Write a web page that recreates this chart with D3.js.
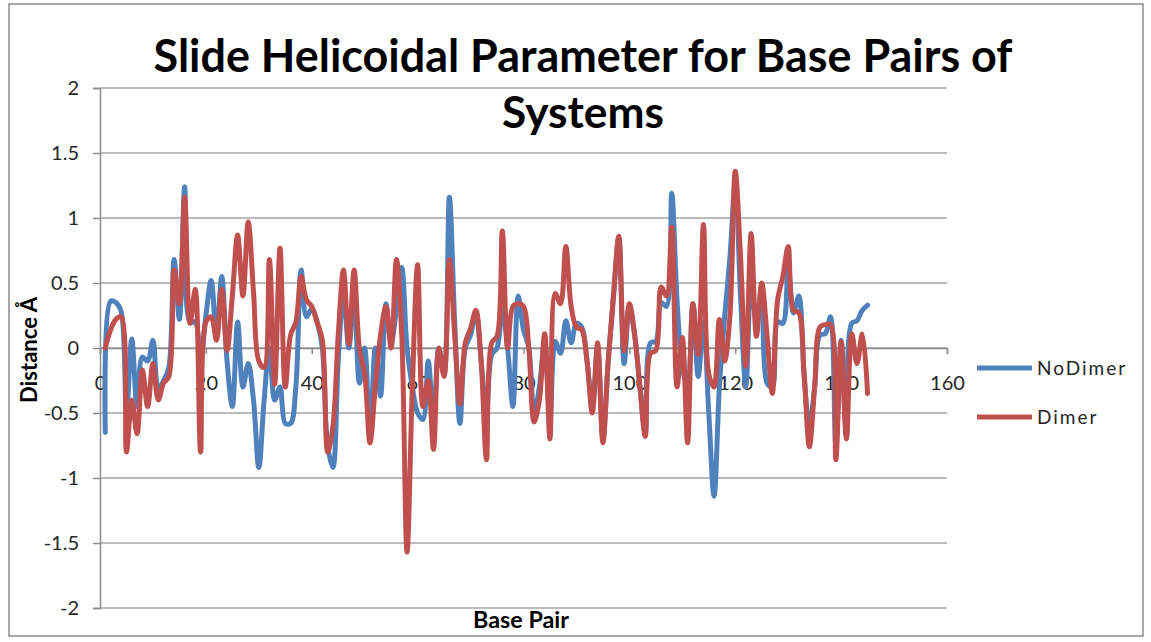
<!DOCTYPE html>
<html>
<head>
<meta charset="utf-8">
<title>Slide Helicoidal Parameter</title>
<script src="https://d3js.org/d3.v7.min.js"></script>
<style>
  body { margin: 0; background: white; font-family: Lato, "Open Sans", sans-serif; }
  svg text { font-family: Lato, "Open Sans", sans-serif; }
</style>
</head>
<body>
<svg id="chart" width="1151" height="642"></svg>
<script>
// base pair values (1..145)
let noDimer = [
  -0.65, 0.36, 0.35, 0.28, -0.5, 0.07, -0.45, -0.07, -0.1, 0.06,
  -0.32, -0.25, -0.15, 0.68, 0.22, 1.24, 0.2, 0.2, -0.1, 0.25,
  0.52, 0.1, 0.55, -0.1, -0.45, 0.2, -0.3, -0.12, -0.4, -0.92,
  -0.4, 0.0, -0.4, -0.3, -0.58, -0.58, -0.3, 0.6, 0.24, 0.3,
  0.2, 0.0, -0.75, -0.92, -0.1, 0.42, 0.0, 0.42, -0.27, 0.0,
  -0.7, 0.0, -0.37, 0.34, 0.04, 0.3, 0.62, 0.0, -0.3, -0.5,
  -0.55, -0.1, -0.55, 0.0, -0.2, 1.16, 0.2, -0.58, 0.0, 0.1,
  0.27, -0.1, -0.5, -0.05, 0.0, 0.3, 0.0, -0.45, 0.4, 0.14,
  0.0, -0.5, -0.3, 0.05, -0.55, 0.05, -0.04, 0.21, 0.04, 0.19,
  0.16, -0.1, -0.45, 0.0, -0.7, -0.1, 0.4, 0.85, -0.12, 0.32,
  0.1, -0.3, -0.65, 0.04, 0.05, 0.35, 0.32, 1.19, 0.37, -0.15,
  -0.3, 0.34, -0.22, 0.2, -0.5, -1.14, -0.3, 0.24, 0.7, 1.25,
  0.4, -0.3, 0.5, 0.2, 0.45, -0.27, -0.3, 0.2, 0.19, 0.63,
  0.27, 0.4, -0.2, -0.6, -0.3, 0.1, 0.11, 0.24, -0.75, 0.06,
  -0.68, 0.19, 0.21, 0.29, 0.33
];
let dimer = [
  0.0, 0.14, 0.22, 0.24, -0.8, -0.4, -0.66, -0.17, -0.45, -0.12,
  -0.4, -0.27, -0.22, 0.6, 0.34, 1.16, 0.19, 0.45, -0.8, 0.2,
  0.24, 0.06, 0.45, -0.02, 0.4, 0.87, 0.4, 0.97, 0.43, -0.1,
  -0.15, 0.68, -0.28, 0.77, -0.3, 0.1, 0.2, 0.55, 0.37, 0.32,
  0.2, 0.06, -0.8, -0.6, 0.1, 0.6, 0.03, 0.6, 0.0, -0.2,
  -0.73, -0.3, 0.1, 0.32, 0.0, 0.68, 0.1, -1.57, -0.3, 0.64,
  -0.45, -0.25, -0.78, 0.0, -0.22, 0.68, 0.1, -0.43, 0.04, 0.15,
  0.29, -0.1, -0.86, 0.04, 0.09, 0.9, 0.0, 0.32, 0.34, 0.32,
  0.0, -0.57, -0.4, 0.11, -0.7, 0.42, 0.34, 0.78, 0.32, 0.16,
  0.14, -0.1, -0.5, 0.04, -0.73, -0.1, 0.4, 0.86, -0.02, 0.34,
  0.1, -0.3, -0.68, -0.04, -0.02, 0.47, 0.4, 0.93, -0.3, 0.08,
  -0.73, 0.34, -0.05, 0.95, -0.2, -0.3, 0.22, -0.1, 0.25, 1.36,
  0.7, -0.14, 0.88, 0.09, 0.5, 0.1, -0.35, 0.37, 0.55, 0.78,
  0.29, 0.27, -0.2, -0.76, -0.3, 0.16, 0.18, 0.18, -0.86, 0.05,
  -0.7, 0.11, -0.12, 0.11, -0.35
];
let xTicks = [0, 20, 40, 60, 80, 100, 120, 140, 160];
let yTicks = [-2, -1.5, -1, -0.5, 0, 0.5, 1, 1.5, 2];
let seriesNames = ["NoDimer", "Dimer"];
let seriesColors = ["#4f81bd", "#c0504d"];
let titleLines = ["Slide Helicoidal Parameter for Base Pairs of", "Systems"];

let svg = d3.select("#chart");

// outer chart border
svg.append("rect")
  .attr("x", 9).attr("y", 4).attr("width", 1134).attr("height", 632)
  .attr("fill", "white").attr("stroke", "#8c8c8c").attr("stroke-width", 1.5);

let x = d3.scaleLinear().domain([0, 160]).range([100, 947]);
let y = d3.scaleLinear().domain([-2, 2]).range([608, 88]);

// shrink or grow a text element until it spans the wanted width
function fitWidth(el, size, target) {
  let w = el.node().getComputedTextLength();
  el.attr("font-size", size * target / w);
}

// gridlines
svg.append("g").selectAll("line")
  .data(yTicks)
  .enter().append("line")
  .attr("x1", x(0)).attr("x2", x(160))
  .attr("y1", d => y(d)).attr("y2", d => y(d))
  .attr("stroke", "#a6a6a6").attr("stroke-width", 1.5);

// y axis (plain hyphen for minus, like the original)
let yAxis = svg.append("g")
  .attr("transform", "translate(" + x(0) + ",0)")
  .call(d3.axisLeft(y).tickValues(yTicks).tickSize(7).tickPadding(14)
    .tickFormat(d => String(d)));
yAxis.select(".domain").attr("stroke", "#8c8c8c").attr("stroke-width", 1.5);
yAxis.selectAll(".tick line").attr("stroke", "#8c8c8c").attr("stroke-width", 1.5);
yAxis.selectAll(".tick text")
  .attr("font-size", 20).attr("fill", "#262626");

// x axis crossing at zero
let xAxis = svg.append("g")
  .attr("transform", "translate(0," + y(0) + ")")
  .call(d3.axisBottom(x).tickValues(xTicks).tickSize(6).tickPadding(22)
    .tickFormat(d => String(d)));
xAxis.select(".domain").attr("stroke", "#8c8c8c").attr("stroke-width", 1.5);
xAxis.selectAll(".tick line").attr("stroke", "#8c8c8c").attr("stroke-width", 1.5);
xAxis.selectAll(".tick text")
  .attr("font-size", 20).attr("fill", "#262626");

// lines
let line = d3.line()
  .x((d, i) => x(i + 1))
  .y(d => y(d))
  .curve(d3.curveCatmullRom);

[noDimer, dimer].forEach(function (data, k) {
  svg.append("path")
    .datum(data)
    .attr("d", line)
    .attr("fill", "none")
    .attr("stroke", seriesColors[k])
    .attr("stroke-width", 5)
    .attr("stroke-linejoin", "round")
    .attr("stroke-linecap", "round");
});

// title, fitted to the width of the original lines
let titleWidths = [859, 162];
let titleY = [72, 128];
titleLines.forEach(function (t, i) {
  let el = svg.append("text")
    .attr("x", 583).attr("y", titleY[i])
    .attr("text-anchor", "middle")
    .attr("font-size", 37).attr("font-weight", "bold")
    .attr("fill", "#000")
    .text(t);
  fitWidth(el, 37, titleWidths[i]);
});

// axis titles
let yTitle = svg.append("text")
  .attr("transform", "translate(37,350) rotate(-90)")
  .attr("text-anchor", "middle")
  .attr("font-size", 20).attr("font-weight", "bold")
  .text("Distance Å");
fitWidth(yTitle, 20, 106);

let xTitle = svg.append("text")
  .attr("x", 521).attr("y", 628)
  .attr("text-anchor", "middle")
  .attr("font-size", 20).attr("font-weight", "bold")
  .text("Base Pair");
fitWidth(xTitle, 20, 96);

// legend
let legendWidths = [96, 66];
let legend = svg.append("g");
seriesNames.forEach(function (name, i) {
  let ly = 368 + i * 49;
  legend.append("line")
    .attr("x1", 977).attr("x2", 1032)
    .attr("y1", ly).attr("y2", ly)
    .attr("stroke", seriesColors[i]).attr("stroke-width", 5);
  legend.append("text")
    .attr("x", 1037).attr("y", ly)
    .attr("dy", "0.35em")
    .attr("font-size", 19)
    .attr("letter-spacing", 2)
    .attr("fill", "#262626")
    .text(name);
});
</script>
</body>
</html>
